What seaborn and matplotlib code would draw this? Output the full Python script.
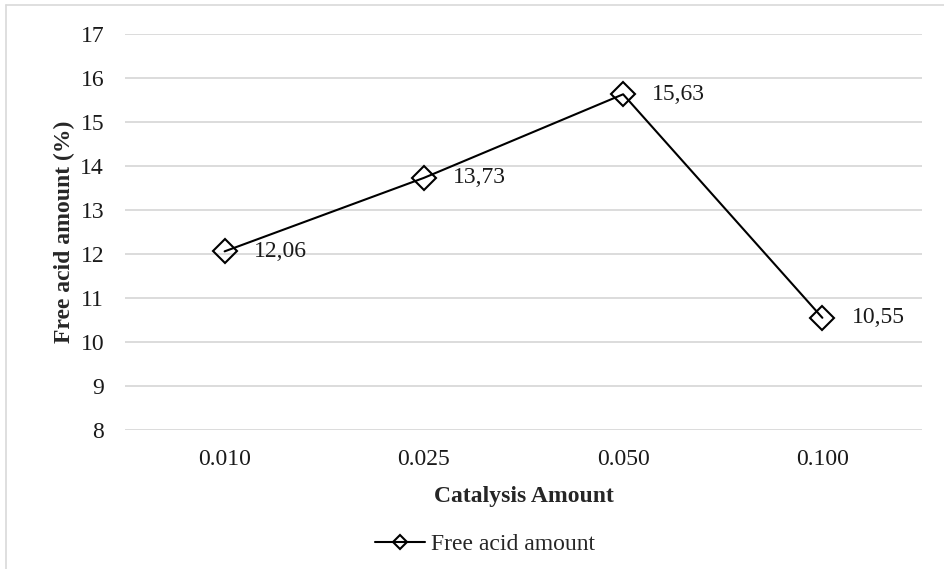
import matplotlib
matplotlib.use("Agg")
import matplotlib.pyplot as plt
from matplotlib.lines import Line2D
import seaborn as sns
import pandas as pd

# Data
catalysis = ["0.010", "0.025", "0.050", "0.100"]
free_acid = [12.06, 13.73, 15.63, 10.55]
value_labels = ["12,06", "13,73", "15,63", "10,55"]
y_ticks = [8, 9, 10, 11, 12, 13, 14, 15, 16, 17]

sns.set_theme(style="white")
plt.rcParams["font.family"] = ["Liberation Serif", "DejaVu Serif"]

FS = 17
W, H = 945, 569
fig = plt.figure(figsize=(W / 100, H / 100), dpi=100)
ax = fig.add_axes([125 / W, 1 - 430 / H, (922 - 125) / W, (430 - 34) / H])

df = pd.DataFrame({"Catalysis Amount": catalysis, "Free acid amount": free_acid})
sns.lineplot(data=df, x="Catalysis Amount", y="Free acid amount", ax=ax,
             sort=False, color="black", linewidth=1.5, marker="D",
             markersize=12, markerfacecolor="none", markeredgecolor="black",
             markeredgewidth=1.5, label="Free acid amount", legend=False)

for i, (v, s) in enumerate(zip(free_acid, value_labels)):
    ax.annotate(s, (i, v), xytext=(21, 0), textcoords="offset points",
                ha="left", va="center", fontsize=FS, color="#1a1a1a")

ax.set_xlim(-0.5, 3.5)
ax.set_ylim(8, 17)
ax.set_yticks(y_ticks)
ax.yaxis.grid(True, color="#d9d9d9", linewidth=1.3)
ax.xaxis.grid(False)
for sp in ax.spines.values():
    sp.set_visible(False)
ax.tick_params(axis="both", length=0, labelsize=FS, colors="#1a1a1a")
ax.tick_params(axis="y", pad=15)
ax.tick_params(axis="x", pad=14)
ax.set_xlabel("Catalysis Amount", fontsize=FS, fontweight="bold", labelpad=11)
ax.set_ylabel("Free acid amount (%)", fontsize=FS, fontweight="bold", labelpad=4)

handle = Line2D([], [], color="black", linewidth=1.5, marker="D", markersize=7,
                markerfacecolor="none", markeredgecolor="black", markeredgewidth=1.5)
fig.legend([handle], ["Free acid amount"], loc="center", bbox_to_anchor=(485 / W, 1 - 544 / H),
           frameon=False, fontsize=FS, handlelength=2.1, handletextpad=0.25)

# Outer chart border (left and top edges visible)
fig.add_artist(Line2D([6 / W, 6 / W], [0, 1 - 5 / H], color="#d9d9d9", linewidth=1.2,
                      transform=fig.transFigure))
fig.add_artist(Line2D([6 / W, 1], [1 - 5 / H, 1 - 5 / H], color="#d9d9d9", linewidth=1.2,
                      transform=fig.transFigure))

fig.savefig("out.png", dpi=100)
